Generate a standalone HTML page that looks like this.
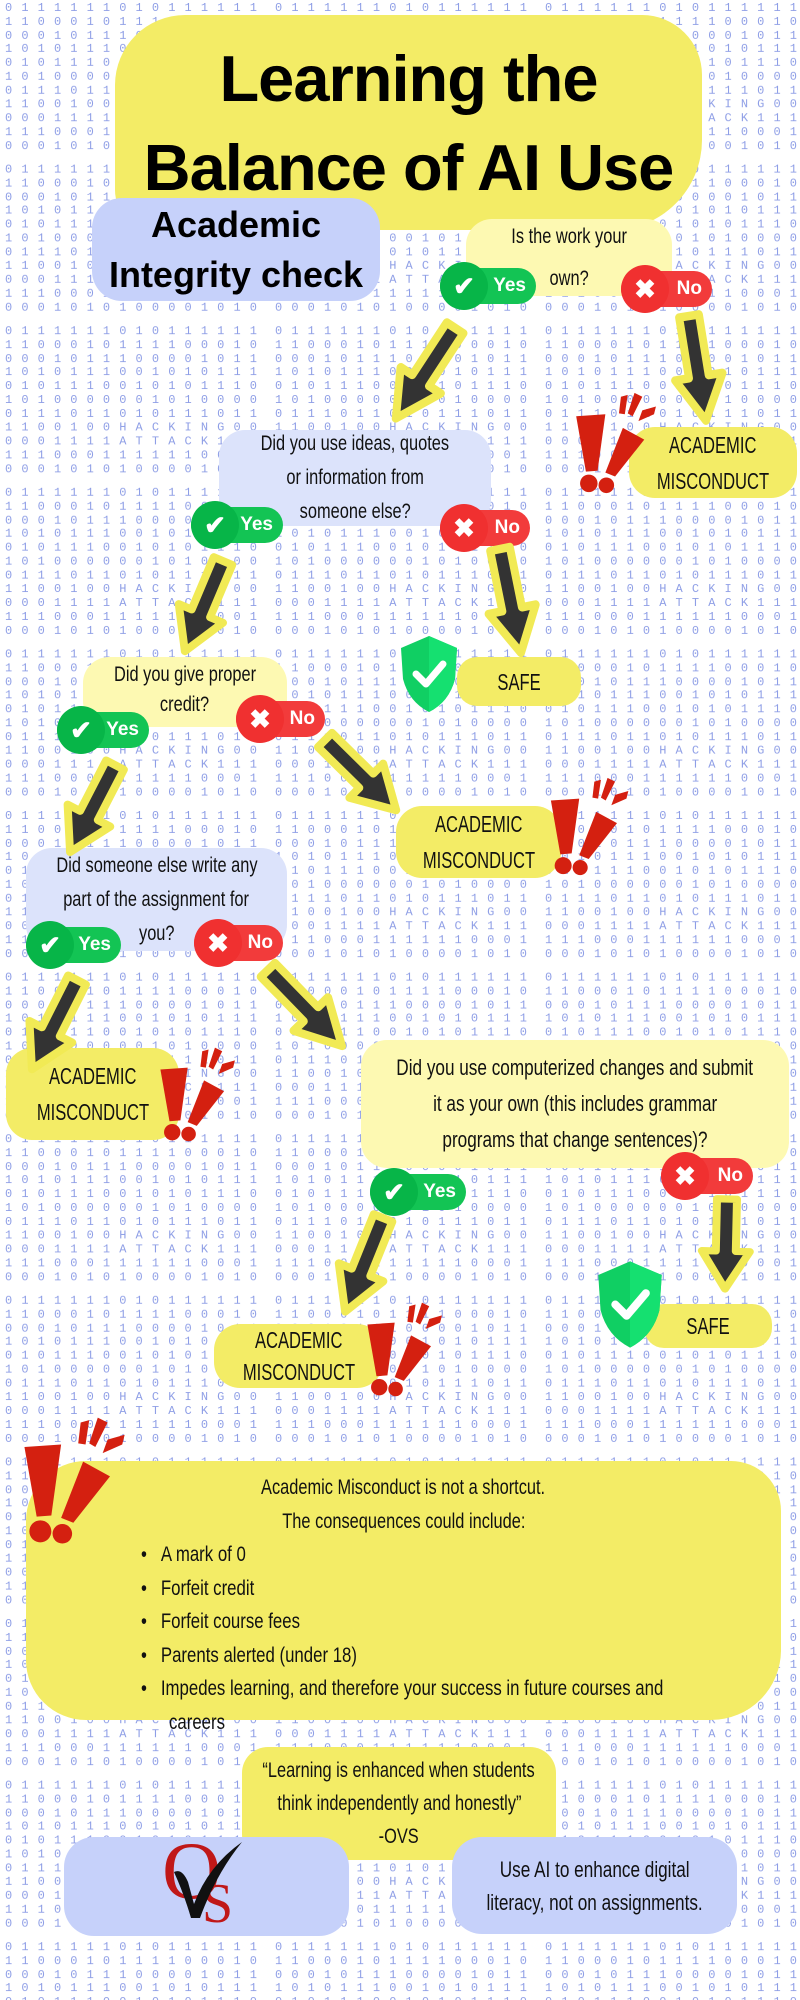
<!DOCTYPE html>
<html><head><meta charset="utf-8">
<style>
*{margin:0;padding:0;box-sizing:border-box}
body{width:800px;height:2000px;position:relative;background:#fff;overflow:hidden;font-family:"Liberation Sans",sans-serif}
.a{position:absolute}
.box{position:absolute;display:flex;flex-direction:column;align-items:center;justify-content:center;text-align:center;color:#111;border-radius:26px}
.n{display:inline-block;transform:scaleX(.78);white-space:nowrap}
.y{background:#f3ec66}
.py{background:#fdf9b2}
.pb{background:#dce3fb}
.b{background:#c6d1fa}
.q{font-size:21px;line-height:34px}
.am{font-size:23px;line-height:36px}
.am .n{transform:scaleX(.72)}
.pill{position:absolute;height:36px;border-radius:18px;color:#fff;font-family:"Liberation Sans",sans-serif;font-weight:bold;font-size:19px;display:flex;align-items:center;justify-content:flex-end;padding-right:10px}
.pill i{position:absolute;left:0;top:-6px;width:48px;height:48px;border-radius:50%;display:flex;align-items:center;justify-content:center;font-style:normal;font-size:26px}
.g{background:#13c454}.g i{background:#07b548}
.r{background:#f23b3b}.r i{background:#f03030}
svg.ov{position:absolute;left:0;top:0}
.cl{display:block;transform:scaleX(.8);transform-origin:left center;white-space:nowrap}
</style></head><body>
<svg class="ov" width="800" height="2000" style="z-index:0">
<defs>
<pattern id="bin" width="270" height="161.6" patternUnits="userSpaceOnUse">
<g fill="#8e9ee6" font-family="Liberation Mono, monospace" font-size="12">
<text x="5" y="11" textLength="252" lengthAdjust="spacing">0111111010111111</text>
<text x="5" y="25" textLength="252" lengthAdjust="spacing">1100010111100010</text>
<text x="5" y="39" textLength="252" lengthAdjust="spacing">0001011100001011</text>
<text x="5" y="52" textLength="252" lengthAdjust="spacing">1010111001010111</text>
<text x="5" y="66" textLength="252" lengthAdjust="spacing">0101110010101110</text>
<text x="5" y="80" textLength="252" lengthAdjust="spacing">1010000001010000</text>
<text x="5" y="94" textLength="252" lengthAdjust="spacing">0111011010111011</text>
<text x="5" y="107" textLength="252" lengthAdjust="spacing">1100100HACKING00</text>
<text x="5" y="121" textLength="252" lengthAdjust="spacing">0001111ATTACK111</text>
<text x="5" y="135" textLength="252" lengthAdjust="spacing">1110001111110001</text>
<text x="5" y="149" textLength="252" lengthAdjust="spacing">0001010100001010</text>
</g>
</pattern>
<symbol id="ex" viewBox="0 0 90 110">
<polygon points="2,28 32,26 24,84 12,85" fill="#d42010"/>
<circle cx="15" cy="97" r="9" fill="#d42010"/>
<polygon points="50,40 72,52 42,90 32,86" fill="#d42010"/>
<circle cx="33" cy="99" r="8" fill="#d42010"/>
<polygon points="48,8 55,6 52,26 46,25" fill="#d42010"/>
<polygon points="62,4 70,8 60,28 55,25" fill="#d42010"/>
<polygon points="70,22 84,18 82,26 66,33" fill="#d42010"/>
</symbol>
<symbol id="sh" viewBox="0 0 60 80">
<path d="M30,2 L58,14 L56,45 Q50,68 30,78 Q10,68 4,45 L2,14 Z" fill="#10cf63"/>
<path d="M30,2 L58,14 L56,45 Q50,68 30,78 Z" fill="#15e070"/>
<polyline points="17,40 27,50 44,30" fill="none" stroke="#fff" stroke-width="7" stroke-linecap="round" stroke-linejoin="round"/>
</symbol>
<path id="ar" d="M0,-10 L58,-10 L58,-24 L100,0 L58,24 L58,10 L0,10 Z"/>
</defs>
<rect width="800" height="2000" fill="url(#bin)"/>
</svg>

<!-- Title -->
<div class="box y" style="left:115px;top:15px;width:587px;height:215px;border-radius:70px 60px 90px 40px;font-weight:bold;font-size:65px;line-height:89px;color:#000"><span style="letter-spacing:-1px">Learning the</span><span style="letter-spacing:-1px">Balance of AI Use</span></div>
<div class="box b" style="left:92px;top:198px;width:288px;height:103px;border-radius:30px;font-weight:bold;font-size:36px;line-height:50px;color:#000"><span>Academic</span><span>Integrity check</span></div>

<!-- Q1 -->
<div class="box py q" style="left:466px;top:219px;width:206px;height:77px;line-height:42px"><span class="n">Is the work your</span><span class="n">own?</span></div>
<div class="pill g" style="left:440px;top:268px;width:96px"><i>✔</i>Yes</div>
<div class="pill r" style="left:621px;top:271px;width:91px"><i>✖</i>No</div>

<!-- AM1 -->
<div class="box y am" style="left:629px;top:427px;width:168px;height:71px"><span class="n">ACADEMIC</span><span class="n">MISCONDUCT</span></div>

<!-- Q2 -->
<div class="box pb q" style="left:219px;top:430px;width:272px;height:96px"><span class="n">Did you use ideas, quotes</span><span class="n">or information from</span><span class="n">someone else?</span></div>
<div class="pill g" style="left:191px;top:507px;width:92px"><i>✔</i>Yes</div>
<div class="pill r" style="left:440px;top:510px;width:90px"><i>✖</i>No</div>

<!-- SAFE1 -->
<div class="box y am" style="left:457px;top:657px;width:124px;height:49px;border-radius:20px"><span class="n">SAFE</span></div>

<!-- Q3 -->
<div class="box py q" style="left:83px;top:657px;width:204px;height:70px;line-height:30px;justify-content:flex-start;padding-top:3px"><span class="n">Did you give proper</span><span class="n">credit?</span></div>
<div class="pill g" style="left:57px;top:712px;width:92px"><i>✔</i>Yes</div>
<div class="pill r" style="left:236px;top:701px;width:89px"><i>✖</i>No</div>

<!-- AM2 -->
<div class="box y am" style="left:396px;top:806px;width:165px;height:72px"><span class="n">ACADEMIC</span><span class="n">MISCONDUCT</span></div>

<!-- Q4 -->
<div class="box pb q" style="left:26px;top:848px;width:261px;height:103px"><span class="n">Did someone else write any</span><span class="n">part of the assignment for</span><span class="n">you?</span></div>
<div class="pill g" style="left:26px;top:927px;width:95px"><i>✔</i>Yes</div>
<div class="pill r" style="left:194px;top:925px;width:89px"><i>✖</i>No</div>

<!-- AM3 -->
<div class="box y am" style="left:6px;top:1048px;width:173px;height:92px"><span class="n">ACADEMIC</span><span class="n">MISCONDUCT</span></div>

<!-- Q5 -->
<div class="box py q" style="left:361px;top:1040px;width:428px;height:128px;font-size:22px;line-height:36px"><span class="n">Did you use computerized changes and submit</span><span class="n">it as your own (this includes grammar</span><span class="n">programs that change sentences)?</span></div>
<div class="pill g" style="left:370px;top:1174px;width:96px"><i>✔</i>Yes</div>
<div class="pill r" style="left:661px;top:1158px;width:92px"><i>✖</i>No</div>

<!-- SAFE2 -->
<div class="box y am" style="left:644px;top:1304px;width:128px;height:44px;border-radius:20px"><span class="n">SAFE</span></div>
<!-- AM4 -->
<div class="box y am" style="left:214px;top:1324px;width:169px;height:64px;line-height:32px"><span class="n">ACADEMIC</span><span class="n">MISCONDUCT</span></div>

<!-- consequences -->
<div class="box y" style="left:26px;top:1461px;width:755px;height:259px;border-radius:60px 50px 70px 60px;display:block;text-align:left;font-size:21px;line-height:33.5px;padding-top:10px">
<div style="text-align:center"><span class="n">Academic Misconduct is not a shortcut.</span><br><span class="n">The consequences could include:</span></div>
<div style="margin-left:115px">
<span class="cl">•&nbsp;&nbsp;&nbsp;A mark of 0</span>
<span class="cl">•&nbsp;&nbsp;&nbsp;Forfeit credit</span>
<span class="cl">•&nbsp;&nbsp;&nbsp;Forfeit course fees</span>
<span class="cl">•&nbsp;&nbsp;&nbsp;Parents alerted (under 18)</span>
<span class="cl">•&nbsp;&nbsp;&nbsp;Impedes learning, and therefore your success in future courses and</span>
<span class="cl">&nbsp;&nbsp;&nbsp;&nbsp;&nbsp;&nbsp;careers</span>
</div>
</div>

<!-- quote -->
<div class="box y" style="left:242px;top:1747px;width:314px;height:113px;font-size:21px;line-height:33px"><span class="n">“Learning is enhanced when students</span><span class="n">think independently and honestly”</span><span class="n">-OVS</span></div>
<div class="box b" style="left:64px;top:1837px;width:285px;height:99px;border-radius:30px"></div>
<div class="box b" style="left:452px;top:1837px;width:285px;height:97px;border-radius:30px;font-size:22px;line-height:33px"><span class="n">Use AI to enhance digital</span><span class="n">literacy, not on assignments.</span></div>
<!-- logo -->
<div class="a" style="left:160px;top:1838px;width:90px;height:95px;font-family:'Liberation Serif',serif;z-index:3">
<span class="a" style="left:2px;top:-8px;font-size:82px;line-height:82px;color:#c01818">O</span>
<span class="a" style="left:42px;top:38px;font-size:56px;line-height:56px;color:#c01818">S</span>
<svg class="a" style="left:0;top:0" width="90" height="90"><path d="M14,34 Q22,30 28,44 L34,66 Q48,28 82,4 Q56,36 40,80 L31,80 Q24,56 14,34 Z" fill="#111"/></svg>
</div>

<!-- arrows, exclamations, shields -->
<svg class="ov" width="800" height="2000" style="z-index:5;pointer-events:none">
<g fill="#333" stroke="#f1ea55" stroke-width="8" stroke-linejoin="round">
<use href="#ar" transform="translate(455,328) rotate(123.2) scale(1.08,1)"/>
<use href="#ar" transform="translate(689,316) rotate(80.8) scale(1.06,1)"/>
<use href="#ar" transform="translate(223,561) rotate(112.9) scale(0.98,1)"/>
<use href="#ar" transform="translate(500,549) rotate(78.6) scale(1.06,1)"/>
<use href="#ar" transform="translate(115,765) rotate(117.3) scale(0.98,1)"/>
<use href="#ar" transform="translate(325,740) rotate(44.6) scale(1.0,1)"/>
<use href="#ar" transform="translate(77,980) rotate(116.8) scale(1.0,1)"/>
<use href="#ar" transform="translate(268,970) rotate(45.8) scale(1.06,1)"/>
<use href="#ar" transform="translate(383,1218) rotate(112) scale(1.01,1)"/>
<use href="#ar" transform="translate(727,1199) rotate(91.3) scale(0.9,1)"/>
</g>
<use href="#ex" x="574" y="389" width="88" height="107"/>
<use href="#ex" x="549" y="774" width="85" height="104"/>
<use href="#ex" x="157" y="1044" width="85" height="100"/>
<use href="#ex" x="364" y="1299" width="85" height="100"/>
<use href="#ex" x="22" y="1400" width="110" height="160"/>
<use href="#sh" x="399" y="632" width="60" height="84"/>
<use href="#sh" x="596" y="1257" width="68" height="95"/>
</svg>
</body></html>
